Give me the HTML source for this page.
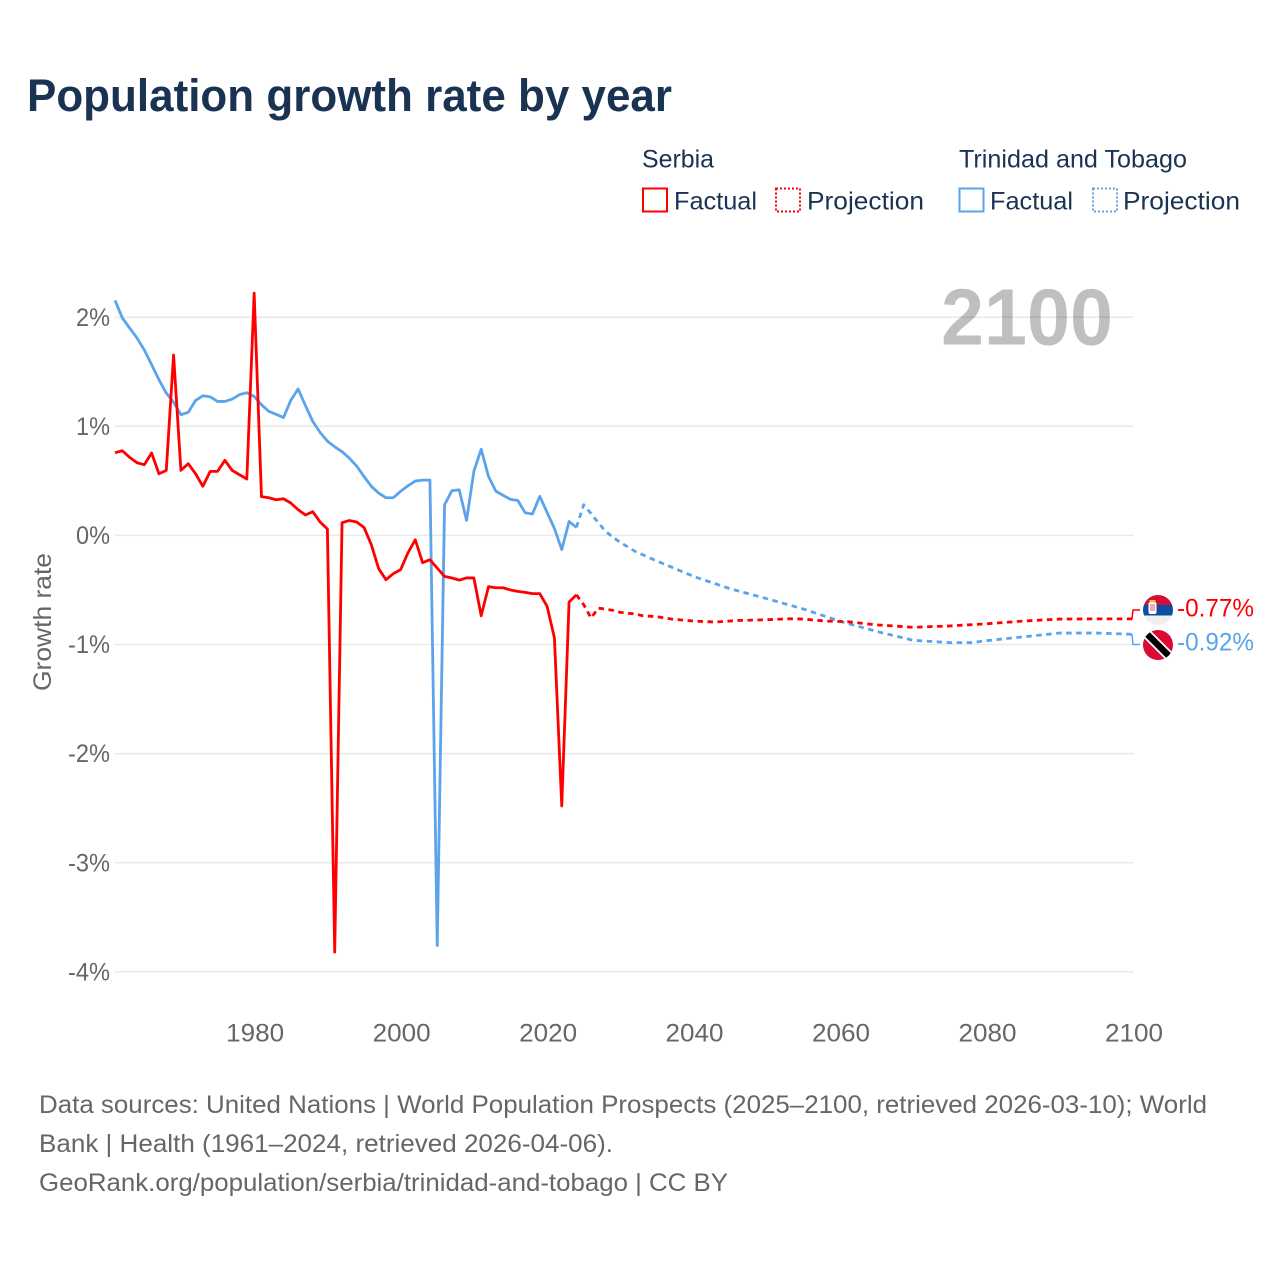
<!DOCTYPE html>
<html lang="en">
<head>
<meta charset="utf-8">
<title>Population growth rate by year</title>
<style>
html,body{margin:0;padding:0;background:#fff;}
svg{display:block;font-family:"Liberation Sans",sans-serif;}
</style>
</head>
<body>
<svg id="chart" xmlns="http://www.w3.org/2000/svg" width="1280" height="1280" viewBox="0 0 1280 1280">
  <rect x="0" y="0" width="1280" height="1280" fill="#fff"/>
  <text x="27" y="111" font-size="45" font-weight="700" fill="#1a3353" textLength="645" lengthAdjust="spacingAndGlyphs">Population growth rate by year</text>

  <g fill="#1a3353" font-size="25">
    <text x="642" y="167.500" textLength="72" lengthAdjust="spacingAndGlyphs">Serbia</text>
    <rect x="643" y="188.500" width="24" height="23" fill="none" stroke="#ff0000" stroke-width="2"/>
    <text x="674" y="209.500" textLength="83" lengthAdjust="spacingAndGlyphs">Factual</text>
    <rect x="776" y="188.500" width="24" height="23" fill="none" stroke="#ff0000" stroke-width="2" stroke-dasharray="2 2"/>
    <text x="807" y="209.500" textLength="117" lengthAdjust="spacingAndGlyphs">Projection</text>
    <text x="959" y="167.500" textLength="228" lengthAdjust="spacingAndGlyphs">Trinidad and Tobago</text>
    <rect x="959.500" y="188.500" width="24" height="23" fill="none" stroke="#5ba4ec" stroke-width="2"/>
    <text x="990" y="209.500" textLength="83" lengthAdjust="spacingAndGlyphs">Factual</text>
    <rect x="1093" y="188.500" width="24" height="23" fill="none" stroke="#5ba4ec" stroke-width="2" stroke-dasharray="2 2"/>
    <text x="1123" y="209.500" textLength="117" lengthAdjust="spacingAndGlyphs">Projection</text>
  </g>

  <g id="grid"></g>
  <text x="941" y="344.500" font-size="80" font-weight="700" fill="#000" fill-opacity="0.25" textLength="172" lengthAdjust="spacingAndGlyphs">2100</text>
  <g id="yticks" font-size="25" fill="#666"></g>
  <g id="xticks" font-size="25" fill="#666"></g>
  <text transform="translate(51,691) rotate(-90)" font-size="25" fill="#666" textLength="138" lengthAdjust="spacingAndGlyphs">Growth rate</text>

  <g id="series"></g>

  <defs>
    <clipPath id="clip-serbia"><circle cx="1158" cy="610" r="15"/></clipPath>
    <clipPath id="clip-trinidad"><circle cx="1158" cy="645" r="15"/></clipPath>
  </defs>
  <g clip-path="url(#clip-serbia)">
    <rect x="1143" y="595" width="30" height="10" fill="#d20f34"/>
    <rect x="1143" y="605" width="30" height="10.500" fill="#0c4da2"/>
    <rect x="1143" y="615.500" width="30" height="9.500" fill="#eeeeee"/>
    <rect x="1148.500" y="602" width="8" height="12" rx="2" fill="#fff"/>
    <rect x="1150" y="604" width="5" height="7" fill="#d20f34" opacity="0.35"/>
    <rect x="1149.500" y="600" width="6" height="2.500" fill="#f2c230"/>
  </g>
  <g clip-path="url(#clip-trinidad)">
    <rect x="1143" y="630" width="30" height="30" fill="#da0a35"/>
    <line x1="1145" y1="632" x2="1171" y2="658" stroke="#fff" stroke-width="10"/>
    <line x1="1145" y1="632" x2="1171" y2="658" stroke="#000" stroke-width="6.500"/>
  </g>
  <text x="1177" y="616.500" font-size="25" fill="#ff0000" textLength="77" lengthAdjust="spacingAndGlyphs">-0.77%</text>
  <text x="1177" y="650.500" font-size="25" fill="#5ba4ec" textLength="77" lengthAdjust="spacingAndGlyphs">-0.92%</text>

  <g font-size="25" fill="#666">
    <text x="39" y="1113" textLength="1168" lengthAdjust="spacingAndGlyphs">Data sources: United Nations | World Population Prospects (2025–2100, retrieved 2026-03-10); World</text>
    <text x="39" y="1152" textLength="574" lengthAdjust="spacingAndGlyphs">Bank | Health (1961–2024, retrieved 2026-04-06).</text>
    <text x="39" y="1191" textLength="689" lengthAdjust="spacingAndGlyphs">GeoRank.org/population/serbia/trinidad-and-tobago | CC BY</text>
  </g>
</svg>
<script>
var yTickValues = [2, 1, 0, -1, -2, -3, -4];
var xTickYears = [1980, 2000, 2020, 2040, 2060, 2080, 2100];

var factualYears = [1961,1962,1963,1964,1965,1966,1967,1968,1969,1970,1971,1972,1973,1974,1975,1976,1977,1978,1979,1980,1981,1982,1983,1984,1985,1986,1987,1988,1989,1990,1991,1992,1993,1994,1995,1996,1997,1998,1999,2000,2001,2002,2003,2004,2005,2006,2007,2008,2009,2010,2011,2012,2013,2014,2015,2016,2017,2018,2019,2020,2021,2022,2023,2024];

var serbiaFactual = [0.758,0.776,0.715,0.666,0.648,0.755,0.565,0.596,1.653,0.596,0.657,0.565,0.45,0.587,0.587,0.688,0.596,0.556,0.517,2.22,0.355,0.345,0.327,0.336,0.297,0.236,0.187,0.217,0.123,0.059,-3.82,0.116,0.137,0.123,0.073,-0.085,-0.305,-0.406,-0.351,-0.314,-0.16,-0.04,-0.25,-0.223,-0.3,-0.376,-0.39,-0.41,-0.39,-0.39,-0.736,-0.47,-0.48,-0.48,-0.5,-0.513,-0.522,-0.534,-0.534,-0.65,-0.94,-2.48,-0.61,-0.545];

var trinidadFactual = [2.154,1.993,1.9,1.81,1.7,1.565,1.427,1.305,1.22,1.106,1.128,1.237,1.28,1.27,1.228,1.228,1.25,1.29,1.308,1.274,1.198,1.137,1.11,1.08,1.237,1.342,1.19,1.045,0.944,0.864,0.812,0.767,0.708,0.635,0.54,0.45,0.388,0.345,0.345,0.404,0.455,0.498,0.507,0.507,-3.76,0.281,0.41,0.418,0.137,0.587,0.79,0.54,0.406,0.367,0.33,0.32,0.208,0.196,0.358,0.21,0.064,-0.13,0.128,0.073];

var serbiaProjectionYears = [2024,2025,2026,2027,2029,2030,2032,2033,2035,2037,2040,2043,2046,2050,2053,2055,2058,2061,2065,2070,2075,2080,2085,2090,2095,2100];
var serbiaProjection = [-0.545,-0.635,-0.757,-0.666,-0.687,-0.706,-0.72,-0.736,-0.745,-0.767,-0.785,-0.794,-0.78,-0.773,-0.764,-0.767,-0.785,-0.791,-0.82,-0.842,-0.83,-0.81,-0.785,-0.767,-0.765,-0.765];

var trinidadProjectionYears = [2024,2025,2026,2027,2028,2029,2030,2032,2035,2040,2045,2050,2055,2058,2060,2065,2070,2075,2078,2080,2085,2090,2095,2100];
var trinidadProjection = [0.073,0.281,0.2,0.115,0.037,-0.018,-0.064,-0.146,-0.235,-0.376,-0.489,-0.58,-0.675,-0.742,-0.788,-0.88,-0.962,-0.983,-0.983,-0.965,-0.93,-0.895,-0.895,-0.907];

var NS = 'http://www.w3.org/2000/svg';
function xScale(year) { return 115 + (year - 1961) * (1133 - 115) / 139; }
function yScale(v) { return 535.4 - v * 109.1; }
function pathFrom(years, values) {
  var d = '';
  for (var i = 0; i < years.length; i++) {
    d += (i ? 'L' : 'M') + xScale(years[i]).toFixed(2) + ' ' + yScale(values[i]).toFixed(2);
  }
  return d;
}

var grid = document.getElementById('grid');
var yticks = document.getElementById('yticks');
yTickValues.forEach(function (v) {
  var line = document.createElementNS(NS, 'line');
  
  
  line.setAttribute('x1', 115);
  line.setAttribute('x2', 1133.5);
  line.setAttribute('y1', yScale(v));
  line.setAttribute('y2', yScale(v));
  line.setAttribute('stroke', '#e9e9e9');
  line.setAttribute('stroke-width', '1.5');
  grid.appendChild(line);
  var t = document.createElementNS(NS, 'text');
  
  
  t.setAttribute('x', 110);
  t.setAttribute('y', yScale(v) + 8.6);
  t.setAttribute('text-anchor', 'end');
  t.setAttribute('textLength', v < 0 ? 42 : 34);
  t.setAttribute('lengthAdjust', 'spacingAndGlyphs');
  t.textContent = v + '%';
  yticks.appendChild(t);
});

var xticks = document.getElementById('xticks');
xTickYears.forEach(function (y) {
  var t = document.createElementNS(NS, 'text');
  
  
  t.setAttribute('x', xScale(y) - 28);
  t.setAttribute('y', 1041.5);
  t.setAttribute('textLength', 58);
  t.setAttribute('lengthAdjust', 'spacingAndGlyphs');
  t.textContent = y;
  xticks.appendChild(t);
});

var series = document.getElementById('series');
function addLine(name, years, values, color, dashed) {
  var p = document.createElementNS(NS, 'path');
  
  
  p.setAttribute('d', pathFrom(years, values));
  p.setAttribute('fill', 'none');
  p.setAttribute('stroke', color);
  p.setAttribute('stroke-width', '2.8');
  p.setAttribute('stroke-linejoin', 'round');
  if (dashed) p.setAttribute('stroke-dasharray', '5.5 4.5');
  series.appendChild(p);
}
function addConnector(name, years, values, color, flagY) {
  var last = values.length - 1;
  var x = xScale(years[last]);
  var y = yScale(values[last]);
  var p = document.createElementNS(NS, 'path');
  
  
  p.setAttribute('d', 'M' + (x - 1) + ' ' + y + 'L' + x + ' ' + flagY + 'L' + (x + 7) + ' ' + flagY);
  p.setAttribute('fill', 'none');
  p.setAttribute('stroke', color);
  p.setAttribute('stroke-width', '1.5');
  series.appendChild(p);
}
addLine('trinidad-factual-line', factualYears, trinidadFactual, '#5ba4ec', false);
addLine('trinidad-projection-line', trinidadProjectionYears, trinidadProjection, '#5ba4ec', true);
addLine('serbia-factual-line', factualYears, serbiaFactual, '#ff0000', false);
addLine('serbia-projection-line', serbiaProjectionYears, serbiaProjection, '#ff0000', true);
addConnector('trinidad-label-connector', trinidadProjectionYears, trinidadProjection, '#5ba4ec', 644.5);
addConnector('serbia-label-connector', serbiaProjectionYears, serbiaProjection, '#ff0000', 610);
</script>
</body>
</html>
